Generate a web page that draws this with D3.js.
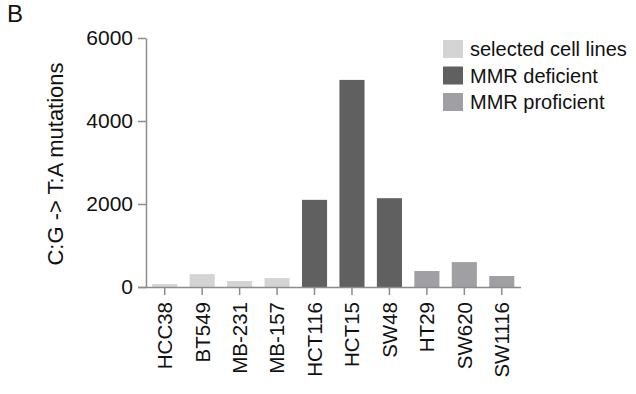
<!DOCTYPE html>
<html>
<head>
<meta charset="utf-8">
<script src="https://cdn.jsdelivr.net/npm/d3@7"></script>
<style>
  body { margin: 0; background: #fff; }
  svg text { font-family: "Liberation Sans", Arial, sans-serif; fill: #111; }
</style>
</head>
<body>
<svg width="636" height="394"></svg>
<script>
// data
const cellLines = ['HCC38', 'BT549', 'MB-231', 'MB-157', 'HCT116', 'HCT15', 'SW48', 'HT29', 'SW620', 'SW1116'];
const mutations = [70, 310, 145, 215, 2100, 4990, 2140, 385, 600, 265];
const groups = ['sel', 'sel', 'sel', 'sel', 'def', 'def', 'def', 'pro', 'pro', 'pro'];
const groupKeys = ['sel', 'def', 'pro'];
const groupNames = ['selected cell lines', 'MMR deficient', 'MMR proficient'];
const groupColors = ['#d4d4d4', '#606060', '#a0a0a4'];
const yTicks = [0, 2000, 4000, 6000];

const svg = d3.select('svg');
const axisColor = '#8c8c8c';

const x = d3.scaleBand().domain(cellLines).range([146, 520.5]).paddingInner(0.33).paddingOuter(0.165);
const y = d3.scaleLinear().domain([0, 6000]).range([287, 38]);
const color = d3.scaleOrdinal().domain(groupKeys).range(groupColors);

// bars
svg.append('g').selectAll('rect')
    .data(cellLines)
    .join('rect')
    .attr('x', d => x(d))
    .attr('width', x.bandwidth())
    .attr('y', (d, i) => y(mutations[i]))
    .attr('height', (d, i) => y(0) - y(mutations[i]))
    .attr('fill', (d, i) => color(groups[i]));

// y axis
const yAxis = svg.append('g')
    .attr('transform', 'translate(146,0)')
    .call(d3.axisLeft(y).tickValues(yTicks).tickSize(8).tickSizeOuter(0).tickPadding(5).tickFormat(d3.format('d')));
yAxis.selectAll('path, line').attr('stroke', axisColor).attr('stroke-width', 1.5);
yAxis.selectAll('text').style('font-size', '21px').attr('fill', '#111');

// x axis
const xAxis = svg.append('g')
    .attr('transform', 'translate(0,287)')
    .call(d3.axisBottom(x).tickSize(8).tickSizeOuter(0));
xAxis.select('path.domain').attr('d', 'M138,0.5H521');
xAxis.selectAll('path, line').attr('stroke', axisColor).attr('stroke-width', 1.5);
xAxis.selectAll('text')
    .style('font-size', '20.5px')
    .attr('fill', '#111')
    .attr('text-anchor', 'end')
    .attr('transform', 'rotate(-90)')
    .attr('x', -15)
    .attr('y', 0)
    .attr('dy', '0.36em');

// y label
svg.append('text')
    .attr('transform', 'translate(62.5,164) rotate(-90)')
    .attr('text-anchor', 'middle')
    .style('font-size', '22px')
    .text('C:G -> T:A mutations');

// panel letter
svg.append('text')
    .attr('x', 7)
    .attr('y', 22)
    .style('font-size', '24px')
    .text('B');

// legend
const legend = svg.append('g')
    .selectAll('g')
    .data(groupKeys)
    .join('g')
    .attr('transform', (d, i) => `translate(443, ${40 + i * 26.5})`);

legend.append('rect')
    .attr('width', 20)
    .attr('height', 18)
    .attr('fill', d => color(d));

legend.append('text')
    .attr('x', 27)
    .attr('y', 9)
    .attr('dy', '0.36em')
    .style('font-size', '20px')
    .text((d, i) => groupNames[i]);
</script>
</body>
</html>
